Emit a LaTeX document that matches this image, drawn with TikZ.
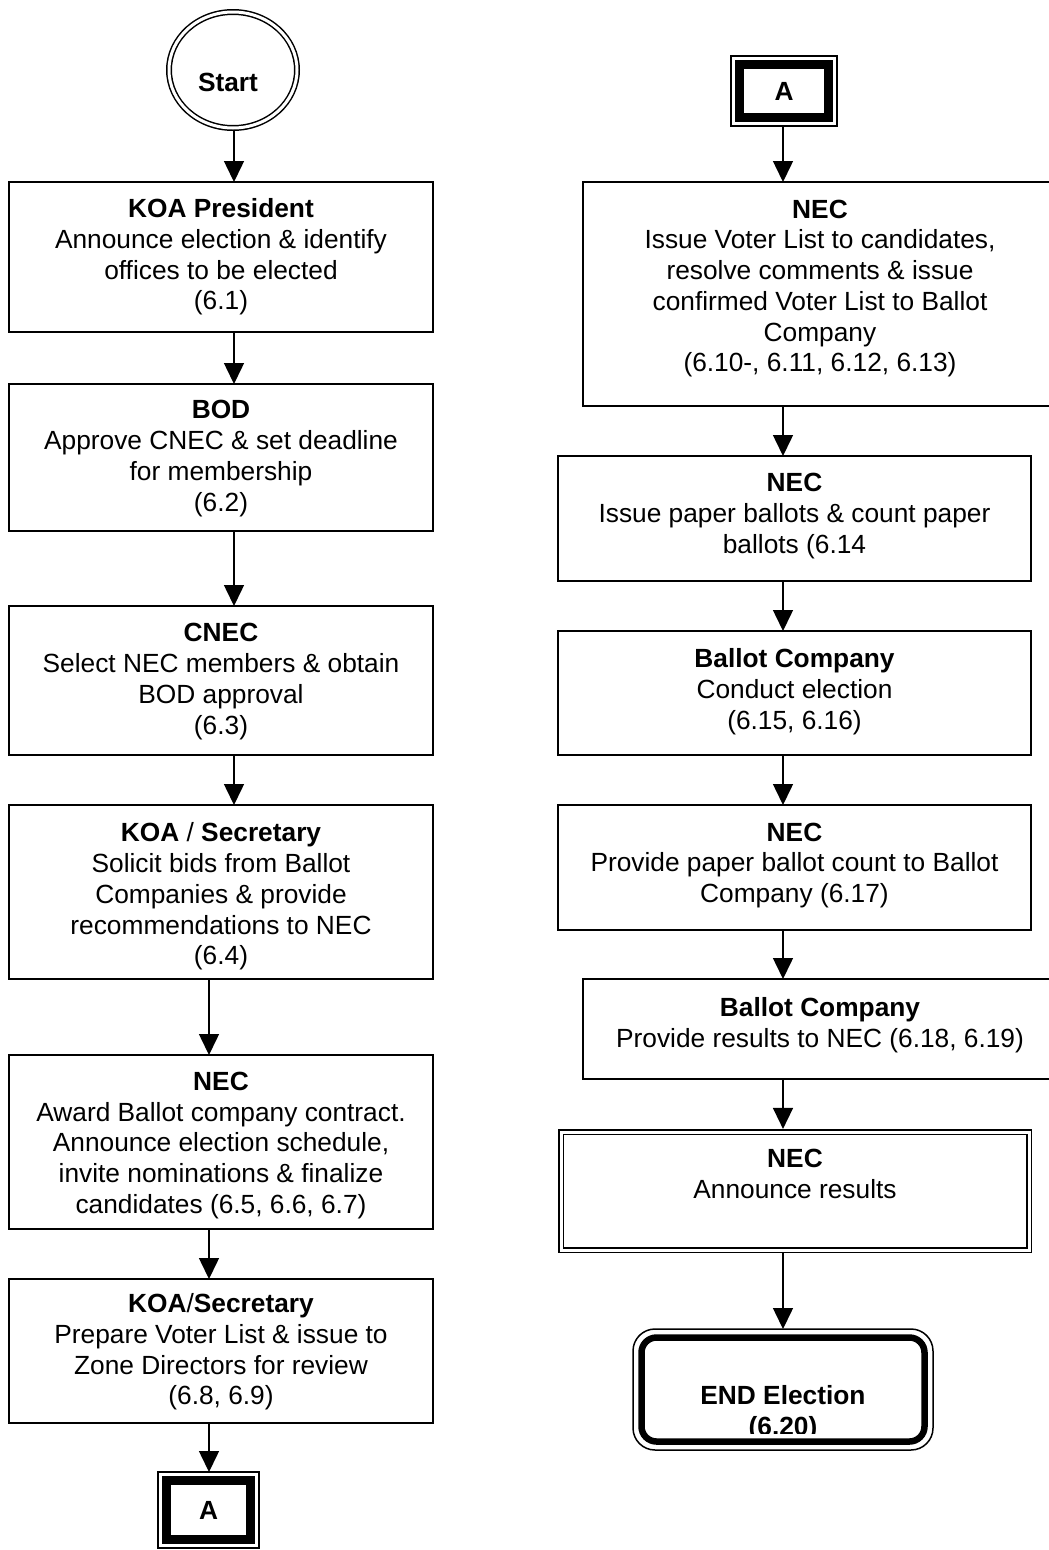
\documentclass[tikz,border=0pt]{standalone}
\usepackage{fontspec}
\setmainfont{Liberation Sans}
\usetikzlibrary{arrows.meta,shapes.geometric}
\begin{document}
\begin{tikzpicture}[x=1pt,y=-1pt,
  box/.style={draw, line width=1.8pt, rectangle, inner sep=0pt, outer sep=0pt},
  dblbox/.style={draw, line width=1.6pt, double, double distance=3pt, rectangle, inner sep=0pt, outer sep=3.1pt},
  txt/.style={align=center, inner sep=0pt, font=\fontsize{26.3}{30.7}\selectfont},
  arr/.style={line width=1.5pt, -{Triangle[length=21pt,width=20pt]}},
  conn/.style={draw, line width=1.5pt, rectangle, inner sep=0pt, outer sep=0pt},
  thick band/.style={line width=8.5pt}
]
\useasboundingbox (0,0) rectangle (1049,1550);
\fill[white] (0,0) rectangle (1049,1550);

\coordinate (cL) at (234,0);
\coordinate (cL2) at (209,0);
\coordinate (cR) at (783,0);

% ---------- left column ----------
\node[ellipse, draw, line width=1.5pt, double, double distance=3pt, minimum width=128pt, minimum height=116pt, inner sep=0pt, outer sep=3pt] (st) at (233,70) {};
\node[txt] (tst) at (228,82) {\textbf{Start}};

\node[box, minimum width=424pt, minimum height=150pt] (b1) at (221,257) {};
\node[txt] (t1) at (221,257) {\textbf{KOA President}\\Announce election \& identify\\offices to be elected\\(6.1)};

\node[box, minimum width=424pt, minimum height=147pt] (b2) at (221,457.5) {};
\node[txt] (t2) at (221,458.5) {\textbf{BOD}\\Approve CNEC \& set deadline\\for membership\\(6.2)};

\node[box, minimum width=424pt, minimum height=149pt] (b3) at (221,680.5) {};
\node[txt] (t3) at (221,681.5) {\textbf{CNEC}\\Select NEC members \& obtain\\BOD approval\\(6.3)};

\node[box, minimum width=424pt, minimum height=174pt] (b4) at (221,892) {};
\node[txt] (t4) at (221,896.5) {\textbf{KOA} / \textbf{Secretary}\\Solicit bids from Ballot\\Companies \& provide\\recommendations to NEC\\(6.4)};

\node[box, minimum width=424pt, minimum height=174pt] (b5) at (221,1142) {};
\node[txt] (t5) at (221,1145.5) {\textbf{NEC}\\Award Ballot company contract.\\Announce election schedule,\\invite nominations \& finalize\\candidates (6.5, 6.6, 6.7)};

\node[box, minimum width=424pt, minimum height=144pt] (b6) at (221,1351) {};
\node[txt] (t6) at (221,1352) {\textbf{KOA}/\textbf{Secretary}\\Prepare Voter List \& issue to\\Zone Directors for review\\(6.8, 6.9)};

\node[conn, minimum width=101pt, minimum height=76pt] (aL) at (208.5,1510) {};
\draw[thick band] ([shift={(8.5,-8.5)}]aL.south west) rectangle ([shift={(-8.5,8.5)}]aL.north east);
\node[txt] (taL) at (208.5,1510) {\textbf{A}};

% ---------- right column ----------
\node[conn, minimum width=106pt, minimum height=70pt] (aR) at (784,91) {};
\draw[thick band] ([shift={(8.5,-8.5)}]aR.south west) rectangle ([shift={(-8.5,8.5)}]aR.north east);
\node[txt] (taR) at (784,91) {\textbf{A}};

\node[box, minimum width=474pt, minimum height=224pt] (r1) at (820,294) {};
\node[txt] (tr1) at (820,288.5) {\textbf{NEC}\\Issue Voter List to candidates,\\resolve comments \& issue\\confirmed Voter List to Ballot\\Company\\(6.10-, 6.11, 6.12, 6.13)};

\node[box, minimum width=473pt, minimum height=125pt] (r2) at (794.5,518.5) {};
\node[txt] (tr2) at (794.5,516) {\textbf{NEC}\\Issue paper ballots \& count paper\\ballots (6.14};

\node[box, minimum width=473pt, minimum height=124pt] (r3) at (794.5,693) {};
\node[txt] (tr3) at (794.5,691.5) {\textbf{Ballot Company}\\Conduct election\\(6.15, 6.16)};

\node[box, minimum width=473pt, minimum height=125pt] (r4) at (794.5,867.5) {};
\node[txt] (tr4) at (794.5,865.5) {\textbf{NEC}\\Provide paper ballot count to Ballot\\Company (6.17)};

\node[box, minimum width=474pt, minimum height=100pt] (r5) at (820,1029) {};
\node[txt] (tr5) at (820,1025.5) {\textbf{Ballot Company}\\Provide results to NEC (6.18, 6.19)};

\node[dblbox, minimum width=468pt, minimum height=118pt] (r6) at (795,1191) {};
\node[txt] (tr6) at (795,1174) {\textbf{NEC}\\Announce results};

\node[conn, rounded corners=22pt, minimum width=300pt, minimum height=121pt] (en) at (783,1389.5) {};
\begin{scope}
  \clip (641,1341) rectangle (925,1433);
  \node[txt] (ten) at (783,1413) {\textbf{END Election}\\\textbf{(6.20)}};
\end{scope}
\draw[line width=6.5pt, rounded corners=15pt] ([shift={(8.5,-8.5)}]en.south west) rectangle ([shift={(-8.5,8.5)}]en.north east);

% ---------- connectors ----------
\draw[arr] (st.south -| cL) -- (b1.north -| cL);
\draw[arr] (b1.south -| cL) -- (b2.north -| cL);
\draw[arr] (b2.south -| cL) -- (b3.north -| cL);
\draw[arr] (b3.south -| cL) -- (b4.north -| cL);
\draw[arr] (b4.south -| cL2) -- (b5.north -| cL2);
\draw[arr] (b5.south -| cL2) -- (b6.north -| cL2);
\draw[arr] (b6.south -| cL2) -- (aL.north -| cL2);

\draw[arr] (aR.south -| cR) -- (r1.north -| cR);
\draw[arr] (r1.south -| cR) -- (r2.north -| cR);
\draw[arr] (r2.south -| cR) -- (r3.north -| cR);
\draw[arr] (r3.south -| cR) -- (r4.north -| cR);
\draw[arr] (r4.south -| cR) -- (r5.north -| cR);
\draw[arr] (r5.south -| cR) -- (r6.north -| cR);
\draw[arr] (r6.south -| cR) -- (en.north -| cR);
\end{tikzpicture}
\end{document}
